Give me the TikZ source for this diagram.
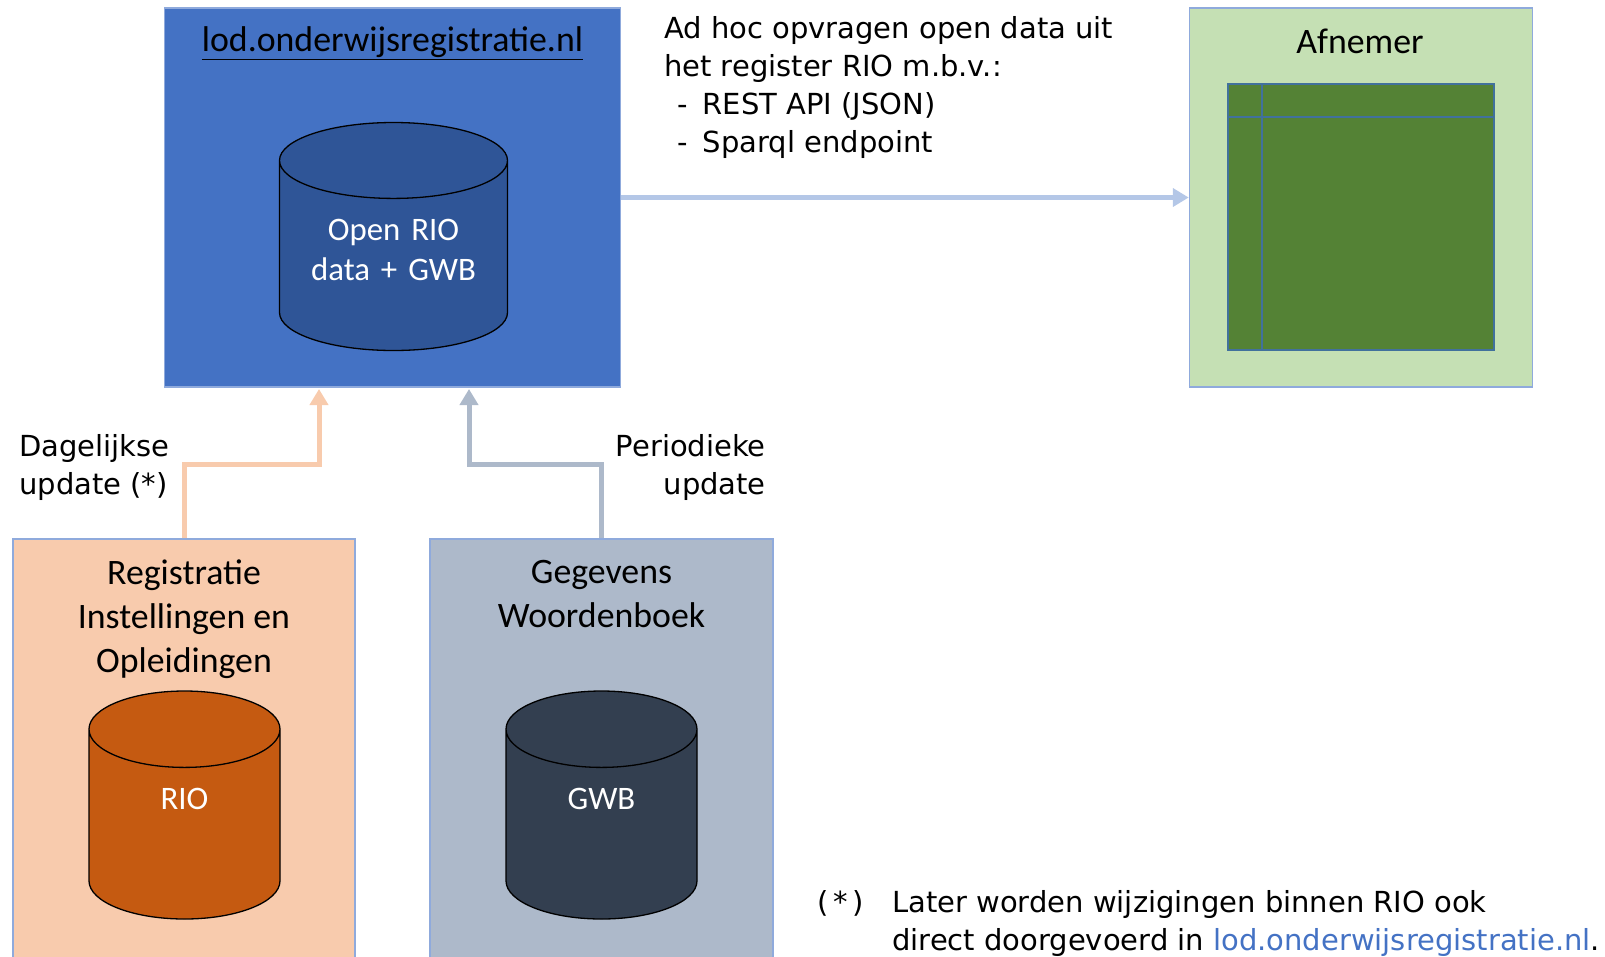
\documentclass[tikz,border=0pt]{standalone}
\usepackage{fontspec}
\setmainfont{Carlito}
\newfontfamily\notefont{DejaVu Sans}
\usetikzlibrary{
    arrows.meta,
    shapes.geometric,
    positioning
}
\definecolor{lodblue}{HTML}{4472C4}
\definecolor{lodcyl}{HTML}{2F5597}
\definecolor{edgeblue}{HTML}{8FAADC}
\definecolor{arrowblue}{HTML}{B4C7E7}
\definecolor{afgreen}{HTML}{C5E0B4}
\definecolor{tablegreen}{HTML}{548235}
\definecolor{tableline}{HTML}{41719C}
\definecolor{rioorange}{HTML}{F8CBAD}
\definecolor{riocyl}{HTML}{C55A11}
\definecolor{gwbgrey}{HTML}{ADB9CA}
\definecolor{gwbcyl}{HTML}{333F50}
\tikzset{
    box/.style={draw=edgeblue, line width=1.5pt, inner sep=0pt, minimum width=#1},
    db/.style={cylinder, shape border rotate=90, aspect=0.333, draw=black, line width=1.3pt,
        cylinder uses custom fill, cylinder body fill=#1, cylinder end fill=#1, text=white,
        inner sep=0pt, text width=228pt, minimum width=228pt, minimum height=228pt, anchor=shape center,
        align=center, font=\fontsize{32.8}{40}\selectfont},
    title/.style={align=center, inner sep=0pt, font=\fontsize{35.8}{44}\selectfont},
    note/.style={inner sep=0pt, font=\notefont\fontsize{29}{38}\selectfont},
    flow/.style={draw=#1, line width=5pt, -{Triangle[width=18pt,length=16pt]}}
}
\begin{document}
\begin{tikzpicture}[x=1pt, y=-1pt]
    \clip (0, 0) rectangle (1605, 956);
    \node[box=456pt, minimum height=379pt, fill=lodblue] (lod) at (392.5, 197.5) {};
    \node[box=343pt, minimum height=379pt, fill=afgreen] (afnemer) at (1361, 197.5) {};
    \node[box=342pt, minimum height=500pt, fill=rioorange] (rio) at (184, 789) {};
    \node[box=343pt, minimum height=500pt, fill=gwbgrey] (gwb) at (601.5, 789) {};

    \node[title] (lodtitle) at (392.5, 43) {\underline{lod.onderwijsregistratie.nl}};
    \node[title] (aftitle) at (1360, 41) {Afnemer};
    \node[title, anchor=north] (riotitle) at (184, 560) {Registratie\\Instellingen en\\Opleidingen};
    \node[title, anchor=north] (gwbtitle) at (601.5, 560) {Gegevens\\Woordenboek};

    \node[db=lodcyl] (loddb) at (393.5, 236.5) {Open RIO\\data + GWB\\[-40pt]\strut};
    \node[db=riocyl, aspect=0.4, text width=191pt, minimum width=191pt] (riodb) at (184.5, 805) {RIO\\\strut};
    \node[db=gwbcyl, aspect=0.4, text width=191pt, minimum width=191pt] (gwbdb) at (601.5, 805) {GWB\\\strut};

    \node[draw=tableline, line width=1.5pt, fill=tablegreen, inner sep=0pt,
        minimum width=266pt, minimum height=266pt] (tabel) at (1361, 217) {};
    \coordinate (tabelx) at (1262, 84);
    \coordinate (tabely) at (1228, 117);
    \draw[tableline, line width=1.5pt]
    (tabelx) -- (tabelx |- tabel.south)
    (tabely) -- (tabely -| tabel.east);

    \coordinate (riotarget) at (319, 389);
    \coordinate (gwbtarget) at (469, 389);
    \draw[flow=arrowblue] (lod.east) -- (afnemer.west);
    \draw[flow=rioorange] (rio.north) |- (319, 464) -- (riotarget);
    \draw[flow=gwbgrey] (gwb.north) |- (469, 464) -- (gwbtarget);

    \node[note, anchor=north west, align=left] (adhoc) at (664, 16)
    {Ad hoc opvragen open data uit\\het register RIO m.b.v.:\\
     \hspace{13pt}-\hspace{15pt}REST API (JSON)\\\hspace{13pt}-\hspace{15pt}Sparql endpoint};
    \node[note, anchor=north west, align=left] (dagelijks) at (19, 434) {Dagelijkse\\update (*)};
    \node[note, anchor=north east, align=right] (periodiek) at (766, 434) {Periodieke\\update};
    \node[note, anchor=north west] (ster) at (817, 890) {(\,*\,)};
    \node[note, anchor=north west, align=left] (voetnoot) at (892, 890)
    {Later worden wijzigingen binnen RIO ook\\
     direct doorgevoerd in \textcolor{lodblue}{\underline{lod.onderwijsregistratie.nl}}.};
\end{tikzpicture}
\end{document}
